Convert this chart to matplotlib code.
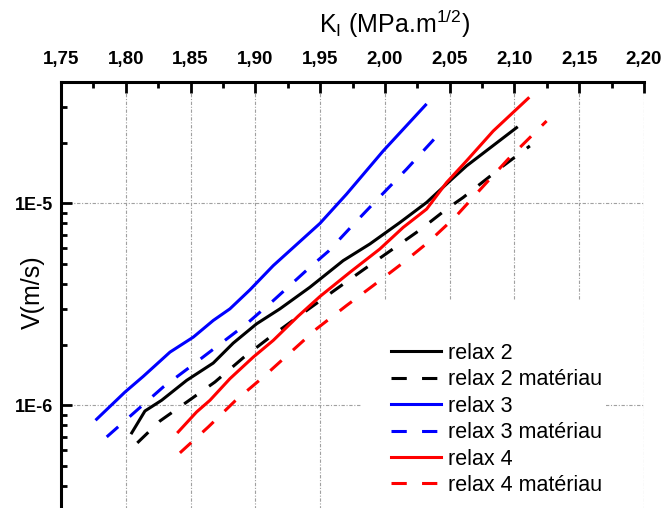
import math

import matplotlib
matplotlib.use("Agg")
import matplotlib.pyplot as plt
from matplotlib.patches import Rectangle
from matplotlib.ticker import FixedLocator, MultipleLocator, LogLocator, FuncFormatter, NullFormatter

plt.rcParams["font.family"] = ["Liberation Sans", "DejaVu Sans"]
plt.rcParams["mathtext.default"] = "regular"

# K_I (MPa.m^1/2) and V (m/s)
k_relax2 = [1.8046, 1.8148, 1.8277, 1.8470, 1.8675, 1.8829, 1.9010, 1.9190,
            1.9421, 1.9678, 1.9884, 2.0116, 2.0322, 2.0502, 2.0630, 2.1016]
v_relax2 = [7.30e-7, 9.37e-7, 1.059e-6, 1.329e-6, 1.619e-6, 2.032e-6, 2.534e-6, 3.006e-6,
            3.845e-6, 5.21e-6, 6.30e-6, 8.05e-6, 1.012e-5, 1.294e-5, 1.535e-5, 2.375e-5]

k_relax2_mat = [1.8089, 1.8264, 1.8482, 1.8688, 1.8907, 1.9113, 1.9396, 1.9627,
                1.9833, 2.0052, 2.0270, 2.0476, 2.0604, 2.0913, 2.1119]
v_relax2_mat = [6.51e-7, 8.36e-7, 1.05e-6, 1.304e-6, 1.721e-6, 2.176e-6, 2.95e-6, 3.775e-6,
                4.69e-6, 5.89e-6, 7.39e-6, 9.38e-6, 1.071e-5, 1.536e-5, 1.928e-5]

k_relax3 = [1.7775, 1.7994, 1.8135, 1.8341, 1.8521, 1.8675, 1.8804, 1.8958,
            1.9138, 1.9498, 1.9704, 1.9987, 2.0314]
v_relax3 = [8.53e-7, 1.163e-6, 1.391e-6, 1.834e-6, 2.176e-6, 2.632e-6, 3.006e-6, 3.732e-6,
            4.92e-6, 7.96e-6, 1.113e-5, 1.822e-5, 3.076e-5]

k_relax3_mat = [1.7853, 1.8071, 1.8289, 1.8495, 1.8714, 1.8933, 1.9138, 1.9421,
                1.9563, 1.9755, 1.9961, 2.0167, 2.0438]
v_relax3_mat = [6.97e-7, 9.27e-7, 1.232e-6, 1.547e-6, 1.98e-6, 2.534e-6, 3.30e-6, 4.83e-6,
                5.79e-6, 7.85e-6, 1.08e-5, 1.479e-5, 2.288e-5]

k_relax4 = [1.8405, 1.8547, 1.8650, 1.8804, 1.8984, 1.9138, 1.9329, 1.9498,
            1.9730, 1.9961, 2.0141, 2.0322, 2.0476, 2.0630, 2.0836, 2.1106]
v_relax4 = [7.38e-7, 9.27e-7, 1.059e-6, 1.355e-6, 1.733e-6, 2.096e-6, 2.76e-6, 3.458e-6,
            4.56e-6, 5.95e-6, 7.61e-6, 9.38e-6, 1.27e-5, 1.626e-5, 2.286e-5, 3.32e-5]

k_relax4_mat = [1.8418, 1.8637, 1.8843, 1.9061, 1.9267, 1.9473, 1.9704, 1.9910,
                2.0129, 2.0334, 2.0540, 2.0746, 2.0951, 2.1157, 2.1248]
v_relax4_mat = [5.81e-7, 7.81e-7, 1.05e-6, 1.380e-6, 1.818e-6, 2.394e-6, 3.121e-6, 3.92e-6,
                5.02e-6, 6.42e-6, 8.53e-6, 1.192e-5, 1.658e-5, 2.244e-5, 2.563e-5]

series = [
    ("relax 2", k_relax2, v_relax2, "black", "-"),
    ("relax 2 matériau", k_relax2_mat, v_relax2_mat, "black", "--"),
    ("relax 3", k_relax3, v_relax3, "blue", "-"),
    ("relax 3 matériau", k_relax3_mat, v_relax3_mat, "blue", "--"),
    ("relax 4", k_relax4, v_relax4, "red", "-"),
    ("relax 4 matériau", k_relax4_mat, v_relax4_mat, "red", "--"),
]

W, H = 667, 508
fig = plt.figure(figsize=(W / 100, H / 100), dpi=100)
# axes box in pixels (bottom edge lies just below the cropped image)
left_px, right_px, top_px, bottom_px = 61, 644, 82, 510.8
axw, axh = right_px - left_px, bottom_px - top_px
ax = fig.add_axes([left_px / W, (H - bottom_px) / H, axw / W, axh / H])

for label, k, v, color, ls in series:
    if ls == "--":
        ax.plot(k, v, color=color, lw=2.2, linestyle=(0, (5, 5)), label=label,
                zorder=3, dash_capstyle="butt")
    else:
        ax.plot(k, v, color=color, lw=2.2, label=label, zorder=3)

ax.set_yscale("log")
ax.set_xlim(1.75, 2.20)
ax.set_ylim(3e-7, 4e-5)

ax.xaxis.tick_top()
ax.xaxis.set_label_position("top")
ax.xaxis.set_major_locator(MultipleLocator(0.05))
ax.xaxis.set_minor_locator(MultipleLocator(0.025))
ax.xaxis.set_major_formatter(FuncFormatter(lambda x, p: f"{x:.2f}".replace(".", ",")))

ax.yaxis.set_major_locator(FixedLocator([1e-6, 1e-5]))
ax.yaxis.set_minor_locator(LogLocator(base=10, subs=range(2, 10)))
ax.yaxis.set_major_formatter(FuncFormatter(lambda y, p: f"1E{int(round(math.log10(y)))}"))
ax.yaxis.set_minor_formatter(NullFormatter())

ax.tick_params(axis="x", which="major", direction="in", length=8, width=2, pad=10,
               labelsize=13.5)
ax.tick_params(axis="x", which="minor", direction="in", length=4, width=2)
ax.tick_params(axis="y", which="major", direction="in", length=8, width=2, pad=6,
               labelsize=13)
ax.tick_params(axis="y", which="minor", direction="in", length=4, width=2)
for lab in ax.get_xticklabels() + ax.get_yticklabels():
    lab.set_fontweight("bold")

for side in ("bottom", "right"):
    ax.spines[side].set_visible(False)
for side in ("top", "left"):
    ax.spines[side].set_linewidth(2.2)

ax.grid(True, which="major", color="#a0a0a0", lw=0.8, linestyle=(0, (3, 1.5, 1, 1.5)), zorder=0)
ax.set_axisbelow(True)

ax.set_xlabel(r"K$_{I}$ (MPa.m$^{1/2}$)", fontsize=18)
ax.xaxis.label.set_verticalalignment("center")
ax.xaxis.set_label_coords((395 - left_px) / axw, (bottom_px - 24) / axh)
ax.set_ylabel("V(m/s)", fontsize=18)
ax.yaxis.set_label_coords((33 - left_px) / axw, (bottom_px - 292) / axh)
ax.yaxis.label.set_verticalalignment("center")

# white legend area hiding the grid
ax.add_patch(Rectangle(((362 - left_px) / axw, 0), (606 - 362) / axw, (bottom_px - 300) / axh,
                       transform=ax.transAxes, facecolor="white", edgecolor="none", zorder=1))

leg = ax.legend(loc="upper left", bbox_to_anchor=((391 - left_px) / axw, (bottom_px - 343) / axh),
                frameon=False, fontsize=15.5, borderpad=0, handlelength=2.3,
                handletextpad=0.35, labelspacing=0.25, borderaxespad=0)
leg.set_zorder(4)

fig.savefig("out.png", dpi=100)
